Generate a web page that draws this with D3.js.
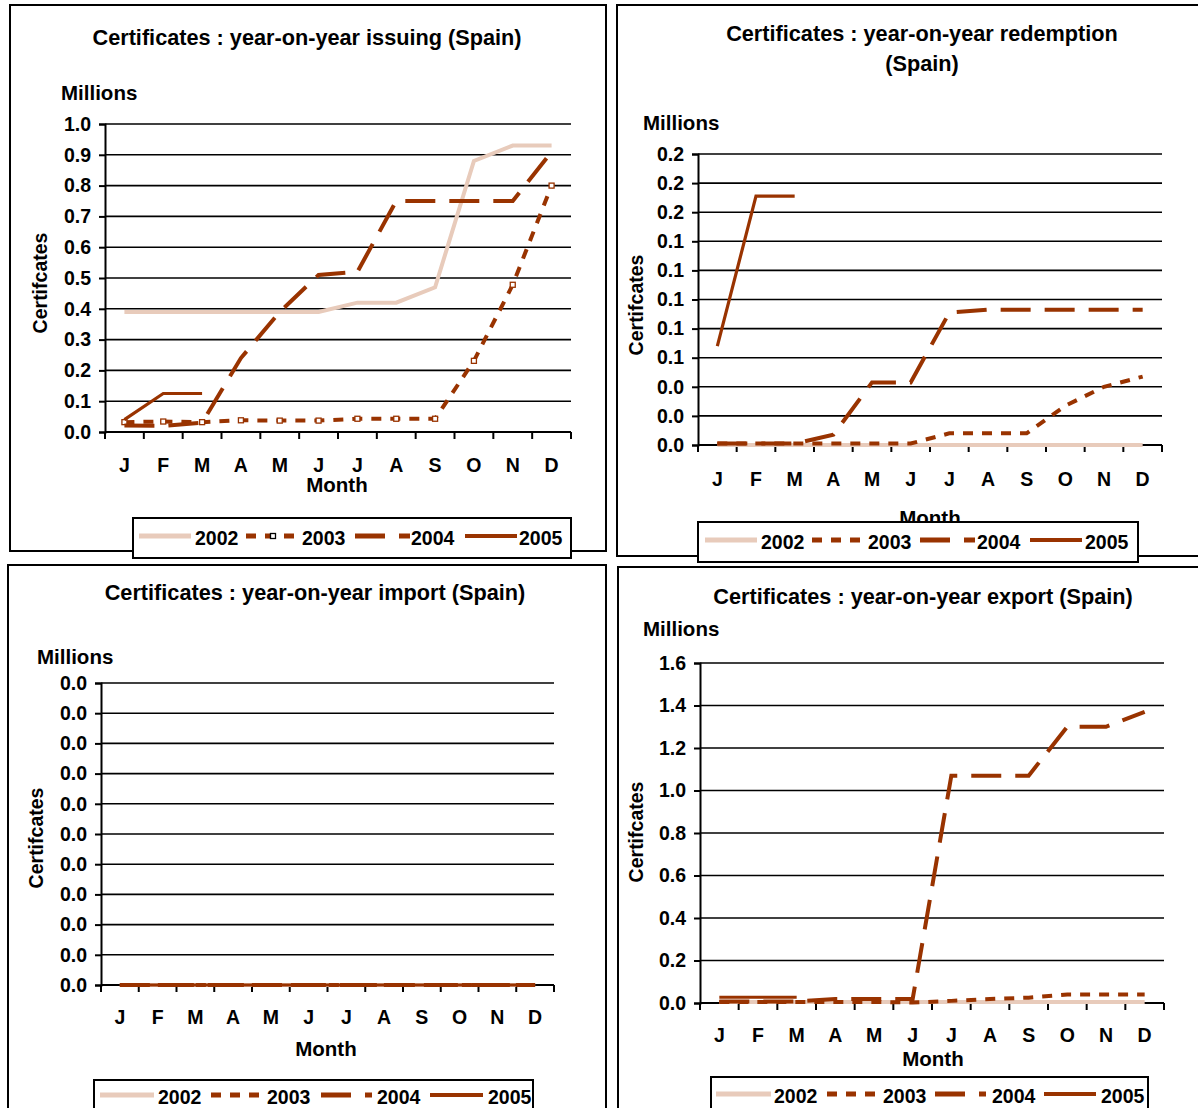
<!DOCTYPE html>
<html><head><meta charset="utf-8">
<script src="https://cdn.jsdelivr.net/npm/d3@7"></script>
<style>
html,body{margin:0;padding:0;background:#fff;}
svg text{font-family:"Liberation Sans",Arial,sans-serif;font-weight:bold;fill:#000;}
</style></head>
<body>
<svg id="chart" width="1198" height="1108"></svg>
<script>
// ---------- data ----------
const months = ["J","F","M","A","M","J","J","A","S","O","N","D"];
const years = ["2002","2003","2004","2005"];

const issuing2002 = [0.39,0.39,0.39,0.39,0.39,0.39,0.42,0.42,0.47,0.88,0.93,0.93];
const issuing2003 = [0.032,0.034,0.032,0.038,0.037,0.037,0.043,0.043,0.043,0.231,0.478,0.80];
const issuing2004 = [0.021,0.02,0.03,0.24,0.39,0.51,0.52,0.75,0.75,0.75,0.75,0.91];
const issuing2005 = [0.04,0.125,0.125];
const issuingTicks = [0,0.1,0.2,0.3,0.4,0.5,0.6,0.7,0.8,0.9,1.0];

const redemption2002 = [0,0,0,0,0,0,0,0,0,0,0,0];
const redemption2003 = [0.001,0.001,0.001,0.001,0.001,0.001,0.008,0.008,0.008,0.027,0.04,0.047];
const redemption2004 = [0.001,0.001,0.001,0.007,0.043,0.043,0.091,0.093,0.093,0.093,0.093,0.093];
const redemption2005 = [0.068,0.171,0.171];
const redemptionTicks = [0,0.02,0.04,0.06,0.08,0.10,0.12,0.14,0.16,0.18,0.20];

const import2002 = [0,0,0,0,0,0,0,0,0,0,0,0];
const import2003 = [0,0,0,0,0,0,0,0,0,0,0,0];
const import2004 = [0,0,0,0,0,0,0,0,0,0,0,0];
const import2005 = [0,0,0,0,0,0,0,0,0,0,0,0];
const importTicks = [0,0.001,0.002,0.003,0.004,0.005,0.006,0.007,0.008,0.009,0.010];

const export2002 = [0.005,0.005,0.005,0.005,0.005,0.005,0.005,0.005,0.005,0.005,0.005,0.005];
const export2003 = [0.005,0.005,0.005,0.005,0.005,0.002,0.01,0.019,0.025,0.04,0.04,0.04];
const export2004 = [0.007,0.007,0.007,0.019,0.019,0.019,1.07,1.07,1.07,1.30,1.30,1.37];
const export2005 = [0.027,0.027,0.027];
const exportTicks = [0,0.2,0.4,0.6,0.8,1.0,1.2,1.4,1.6];

// ---------- styles ----------
const DARK = "#993300", LIGHT = "#E8CBBB";
const seriesStyle = {
  "2002": {color: LIGHT, width: 4, dash: null},
  "2003": {color: DARK, width: 4, dash: "10,9"},
  "2004": {color: DARK, width: 4, dash: "30,14"},
  "2005": {color: DARK, width: 3.2, dash: null}
};

const svg = d3.select("#chart");
const fmt = d3.format(".1f");

function panel(cfg) {
  const g = svg.append("g");
  g.append("rect").attr("x", cfg.frame[0]).attr("y", cfg.frame[1])
    .attr("width", cfg.frame[2]).attr("height", cfg.frame[3])
    .attr("fill", "#fff").attr("stroke", "#000").attr("stroke-width", 2);
  cfg.title.forEach((t, i) => {
    g.append("text").attr("x", cfg.titleX).attr("y", cfg.titleY + i * 30)
      .attr("text-anchor", "middle").attr("font-size", 21.7).text(t);
  });
  g.append("text").attr("x", cfg.millions[0]).attr("y", cfg.millions[1])
    .attr("font-size", 20.5).text("Millions");

  const [L, T, R, B] = cfg.plot;
  const x = d3.scaleBand().domain(d3.range(12)).range([L, R]);
  const y = d3.scaleLinear().domain([cfg.ticks[0], cfg.ticks[cfg.ticks.length - 1]]).range([B, T]);

  g.append("g").selectAll("line").data(cfg.ticks).join("line")
    .attr("x1", L).attr("x2", R).attr("y1", d => y(d)).attr("y2", d => y(d))
    .attr("stroke", "#000").attr("stroke-width", 1.6);

  const yAxis = d3.axisLeft(y).tickValues(cfg.ticks).tickFormat(fmt).tickSize(6).tickPadding(8);
  const ya = g.append("g").attr("transform", `translate(${L},0)`).call(yAxis);
  ya.select(".domain").attr("stroke", "#000").attr("stroke-width", 2);
  ya.selectAll(".tick line").attr("stroke", "#000").attr("stroke-width", 2);
  ya.selectAll("text").attr("font-size", 19.5).attr("font-family", "Liberation Sans, Arial, sans-serif")
    .attr("font-weight", "bold").attr("fill", "#000");

  const xa = g.append("g");
  xa.append("line").attr("x1", L).attr("x2", R).attr("y1", B).attr("y2", B)
    .attr("stroke", "#000").attr("stroke-width", 2.2);
  xa.selectAll("line.tk").data(d3.range(13)).join("line").attr("class", "tk")
    .attr("x1", d => L + d * x.step()).attr("x2", d => L + d * x.step())
    .attr("y1", B).attr("y2", B + 7).attr("stroke", "#000").attr("stroke-width", 2);
  xa.selectAll("text").data(months).join("text")
    .attr("x", (d, i) => x(i) + x.bandwidth() / 2).attr("y", cfg.monthY)
    .attr("text-anchor", "middle").attr("font-size", 19.5).text(d => d);
  g.append("text").attr("x", cfg.monthTitle[0]).attr("y", cfg.monthTitle[1])
    .attr("text-anchor", "middle").attr("font-size", 20.5).text("Month");
  g.append("text").attr("transform", `translate(${cfg.yTitle[0]},${cfg.yTitle[1]}) rotate(-90)`)
    .attr("text-anchor", "middle").attr("font-size", 19.5).text("Certifcates");

  const line = d3.line().x((d, i) => x(i) + x.bandwidth() / 2).y(d => y(d));
  years.forEach((yr, k) => {
    const st = seriesStyle[yr];
    g.append("path").datum(cfg.series[k]).attr("d", line)
      .attr("fill", "none").attr("stroke", st.color).attr("stroke-width", st.width)
      .attr("stroke-dasharray", st.dash).attr("stroke-linejoin", "miter");
    if (cfg.markers2003 && yr === "2003") {
      g.append("g").selectAll("rect").data(cfg.series[k]).join("rect")
        .attr("x", (d, i) => x(i) + x.bandwidth() / 2 - 2.5).attr("y", d => y(d) - 2.5)
        .attr("width", 5).attr("height", 5).attr("fill", "#fff")
        .attr("stroke", DARK).attr("stroke-width", 1.3);
    }
  });

  const lg = g.append("g");
  lg.append("rect").attr("x", cfg.legend.box[0]).attr("y", cfg.legend.box[1])
    .attr("width", cfg.legend.box[2]).attr("height", cfg.legend.box[3])
    .attr("fill", "#fff").attr("stroke", "#000").attr("stroke-width", 2);
  years.forEach((yr, k) => {
    const st = seriesStyle[yr];
    const s = cfg.legend.samples[k];
    lg.append("line").attr("x1", s[0]).attr("x2", s[1])
      .attr("y1", cfg.legend.lineY).attr("y2", cfg.legend.lineY)
      .attr("stroke", st.color).attr("stroke-width", st.width + 1)
      .attr("stroke-dasharray", st.dash);
    if (cfg.markers2003 && yr === "2003") {
      lg.append("rect").attr("x", (s[0] + s[1]) / 2 - 2.5).attr("y", cfg.legend.lineY - 2.5)
        .attr("width", 5).attr("height", 5).attr("fill", "#fff").attr("stroke", "#000").attr("stroke-width", 1.3);
    }
    lg.append("text").attr("x", cfg.legend.textX[k]).attr("y", cfg.legend.textY)
      .attr("font-size", 19.5).text(yr);
  });
}

panel({
  frame: [10, 5, 596, 546],
  title: ["Certificates : year-on-year issuing (Spain)"], titleX: 307, titleY: 45,
  millions: [61, 100],
  plot: [105, 124, 571, 432],
  ticks: issuingTicks,
  monthY: 472, monthTitle: [337, 492], yTitle: [47, 283],
  series: [issuing2002, issuing2003, issuing2004, issuing2005],
  markers2003: true,
  legend: {box: [133, 518, 438, 40], samples: [[139,191],[246,300],[355,410],[465,517]],
           textX: [195,302,411,519], textY: 545, lineY: 536}
});

panel({
  frame: [617, 5, 595, 551],
  title: ["Certificates : year-on-year redemption", "(Spain)"], titleX: 922, titleY: 41,
  millions: [643, 130],
  plot: [698, 154, 1162, 445],
  ticks: redemptionTicks,
  monthY: 486, monthTitle: [930, 525], yTitle: [643, 305],
  series: [redemption2002, redemption2003, redemption2004, redemption2005],
  markers2003: false,
  legend: {box: [698, 522, 440, 40], samples: [[705,757],[812,865],[920,975],[1030,1082]],
           textX: [761,868,977,1085], textY: 549, lineY: 540}
});

panel({
  frame: [8, 565, 598, 560],
  title: ["Certificates : year-on-year import (Spain)"], titleX: 315, titleY: 600,
  millions: [37, 664],
  plot: [101, 683, 554, 985],
  ticks: importTicks,
  monthY: 1024, monthTitle: [326, 1056], yTitle: [43, 838],
  series: [import2002, import2003, import2004, import2005],
  markers2003: false,
  legend: {box: [94, 1080, 439, 40], samples: [[100,154],[211,262],[321,372],[430,483]],
           textX: [158,267,377,488], textY: 1104, lineY: 1095}
});

panel({
  frame: [618, 567, 595, 560],
  title: ["Certificates : year-on-year export (Spain)"], titleX: 923, titleY: 604,
  millions: [643, 636],
  plot: [700, 663, 1164, 1003],
  ticks: exportTicks,
  monthY: 1042, monthTitle: [933, 1066], yTitle: [643, 832],
  series: [export2002, export2003, export2004, export2005],
  markers2003: false,
  legend: {box: [711, 1077, 437, 40], samples: [[716,771],[827,877],[935,986],[1044,1096]],
           textX: [774,883,992,1101], textY: 1103, lineY: 1094}
});
</script>
</body></html>
